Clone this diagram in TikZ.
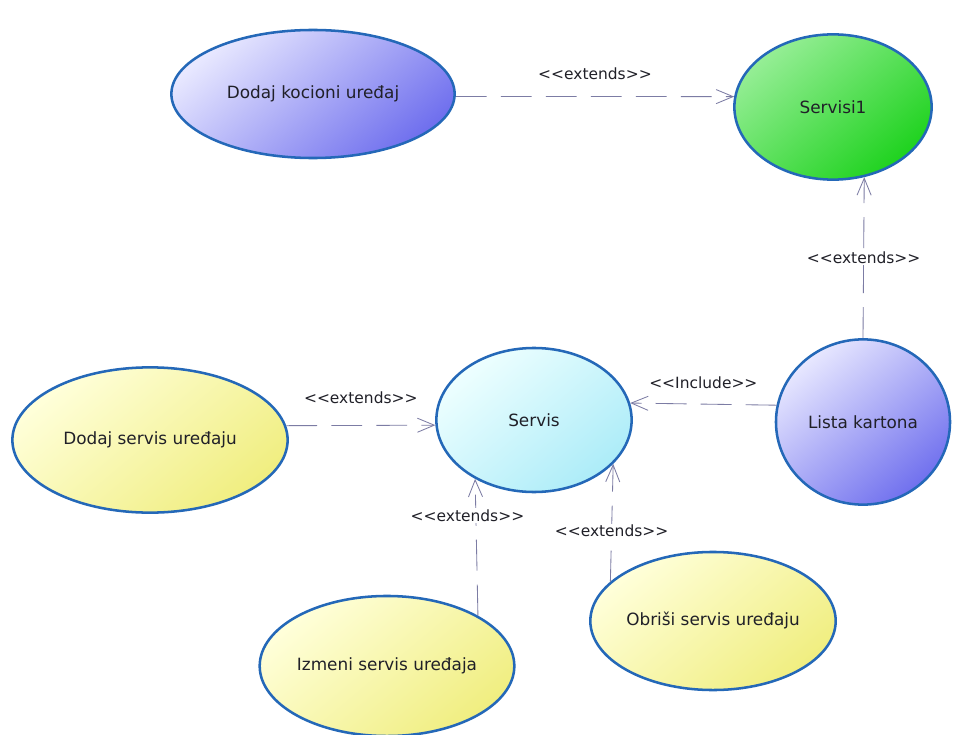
\documentclass[tikz,border=0pt]{standalone}
\usepackage{fontspec}
\newfontfamily\ucfont{DejaVu Sans}
\usepackage{tikz}
\usetikzlibrary{shapes.geometric,arrows.meta}
\definecolor{ucborder}{RGB}{36,104,184}
\definecolor{ucline}{RGB}{124,124,164}
\definecolor{uctext}{RGB}{32,32,40}
\tikzstyle{usecase} = [ellipse, draw=ucborder, line width=1.8pt, inner sep=0pt, text=uctext, font=\ucfont\fontsize{12}{14}\selectfont]
\tikzstyle{lilacfill} = [top color={rgb,255:red,232;green,232;blue,255}, bottom color={rgb,255:red,112;green,112;blue,238}, shading angle=40]
\tikzstyle{greenfill} = [top color={rgb,255:red,150;green,238;blue,150}, bottom color={rgb,255:red,30;green,210;blue,30}, shading angle=40]
\tikzstyle{cyanfill} = [top color={rgb,255:red,238;green,255;blue,255}, bottom color={rgb,255:red,172;green,236;blue,248}, shading angle=40]
\tikzstyle{yellowfill} = [top color={rgb,255:red,255;green,255;blue,218}, bottom color={rgb,255:red,240;green,238;blue,128}, shading angle=40]
\tikzstyle{arrow} = [draw=ucline, line width=0.6pt, dash pattern=on 22pt off 10pt, -{Straight Barb[length=12pt,width=10pt]}]
\tikzstyle{stereo} = [fill=white, inner sep=1pt, text=uctext, font=\ucfont\fontsize{11}{13}\selectfont]

\begin{document}
\begin{tikzpicture}[x=0.025cm, y=-0.025cm]
	\useasboundingbox[fill=white] (0,0) rectangle (960,735);

	\node[usecase, lilacfill, minimum width=7.08cm, minimum height=3.2cm] (kocioni) at (313,94) {Dodaj kocioni uređaj};
	\node[usecase, greenfill, minimum width=4.93cm, minimum height=3.63cm] (servisi1) at (833,107) {Servisi1};
	\node[usecase, lilacfill, minimum width=4.35cm, minimum height=4.13cm] (lista) at (863,422) {Lista kartona};
	\node[usecase, cyanfill, minimum width=4.88cm, minimum height=3.6cm] (servis) at (534,420) {Servis};
	\node[usecase, yellowfill, minimum width=6.88cm, minimum height=3.63cm] (dodaj) at (150,440) {Dodaj servis uređaju};
	\node[usecase, yellowfill, minimum width=6.25cm, minimum height=3.5cm] (izmeni) at (387,666) {Izmeni servis uređaja};
	\node[usecase, yellowfill, minimum width=6.08cm, minimum height=3.45cm] (obrisi) at (713,621) {Obriši servis uređaju};

	\draw[arrow] (kocioni.-1) -- node[stereo, midway, yshift=16pt] (ext1) {<<extends>>} (servisi1.174);
	\draw[arrow] (lista.north) -- node[stereo, midway] (ext2) {<<extends>>} (servisi1.-66);
	\draw[arrow] (lista.169) -- node[stereo, midway, yshift=15pt] (inc1) {<<Include>>} (servis.10);
	\draw[arrow] (dodaj.6) -- node[stereo, midway, yshift=20pt] (ext3) {<<extends>>} (servis.183);
	\draw[arrow] (izmeni.29) -- node[stereo, pos=0.73, xshift=-6pt] (ext4) {<<extends>>} (servis.-135);
	\draw[arrow] (obrisi.159) -- node[stereo, pos=0.43] (ext5) {<<extends>>} (servis.-29);
\end{tikzpicture}
\end{document}
